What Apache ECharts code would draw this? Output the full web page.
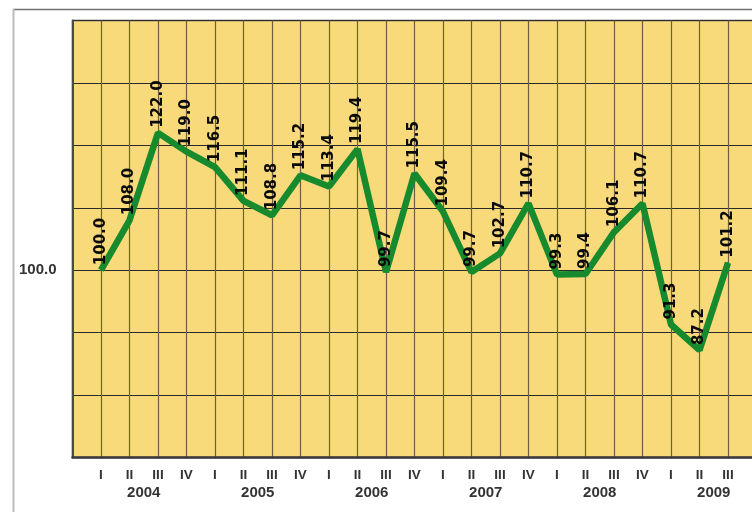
<!DOCTYPE html>
<html>
<head>
<meta charset="utf-8">
<script src="https://cdn.jsdelivr.net/npm/echarts@6/dist/echarts.min.js"></script>
<style>html,body{margin:0;padding:0;background:#fff}#c{width:752px;height:512px}</style>
</head>
<body>
<div id="c"></div>
<script>
const quarters = ['I','II','III','IV','I','II','III','IV','I','II','III','IV','I','II','III','IV','I','II','III','IV','I','II','III'];
const years = ['2004','2005','2006','2007','2008','2009'];
const values = [100.0,108.0,122.0,119.0,116.5,111.1,108.8,115.2,113.4,119.4,99.7,115.5,109.4,99.7,102.7,110.7,99.3,99.4,106.1,110.7,91.3,87.2,101.2];
const yTickLabels = {100: '100.0'};

const cats = [''].concat(quarters, ['']);
const seriesData = [null].concat(values, [null]);

const chart = echarts.init(document.getElementById('c'), null, {renderer: 'canvas'});
chart.setOption({
  animation: false,
  backgroundColor: '#ffffff',
  graphic: [
    {type: 'line', shape: {x1: 13, y1: 9.5, x2: 752, y2: 9.5}, style: {stroke: '#707070', lineWidth: 1.5}, silent: true},
    {type: 'line', shape: {x1: 13.5, y1: 9, x2: 13.5, y2: 512}, style: {stroke: '#bdbdbd', lineWidth: 2}, silent: true}
  ],
  grid: {
    left: 72.5, width: 684, top: 20.5, bottom: 54.5,
    outerBoundsMode: 'none', containLabel: false,
    show: true, backgroundColor: '#F8DA7B', borderColor: '#4a4a4a', borderWidth: 1.5
  },
  xAxis: [{
    type: 'category',
    data: cats,
    boundaryGap: false,
    axisTick: {show: false},
    axisLine: {show: true, lineStyle: {color: '#3a3a3a', width: 2.5}},
    splitLine: {show: true, lineStyle: {color: '#6e5f3e', width: 1.2}},
    axisLabel: {interval: 0, margin: 11, color: '#333', fontFamily: 'Liberation Sans', fontWeight: 'bold', fontSize: 13.5}
  }, {
    type: 'value',
    position: 'bottom',
    min: 0, max: 24, interval: 0.5,
    axisLine: {show: false}, axisTick: {show: false}, splitLine: {show: false},
    axisLabel: {
      margin: 28, color: '#333', fontFamily: 'Liberation Sans', fontWeight: 'bold', fontSize: 15,
      showMinLabel: true, showMaxLabel: true,
      formatter: function (v) {
        const k = (v - 2.5) / 4;
        return (Number.isInteger(k) && years[k]) ? years[k] : '';
      }
    }
  }],
  yAxis: {
    type: 'value',
    min: 70, max: 140, interval: 10,
    axisLine: {show: true, lineStyle: {color: '#4a4a4a', width: 2}},
    axisTick: {show: false},
    splitLine: {show: true, lineStyle: {color: '#2a2a2a', width: 1}},
    axisLabel: {
      margin: 16, color: '#333', fontFamily: 'Liberation Sans', fontWeight: 'bold', fontSize: 15,
      formatter: function (v) { return yTickLabels[v] || ''; }
    }
  },
  series: [{
    type: 'line',
    xAxisIndex: 0,
    data: seriesData,
    symbol: 'circle',
    symbolSize: 2,
    showSymbol: true,
    itemStyle: {color: '#178A2D'},
    lineStyle: {color: '#178A2D', width: 6.5},
    z: 3,
    label: {
      show: true,
      position: 'top',
      rotate: 90,
      align: 'left',
      verticalAlign: 'middle',
      distance: 4,
      color: '#0a0a0a',
      fontFamily: 'DejaVu Sans',
      fontWeight: 'bold',
      fontSize: 15,
      formatter: function (p) { return p.value == null ? '' : Number(p.value).toFixed(1); }
    }
  }]
});
</script>
</body>
</html>
